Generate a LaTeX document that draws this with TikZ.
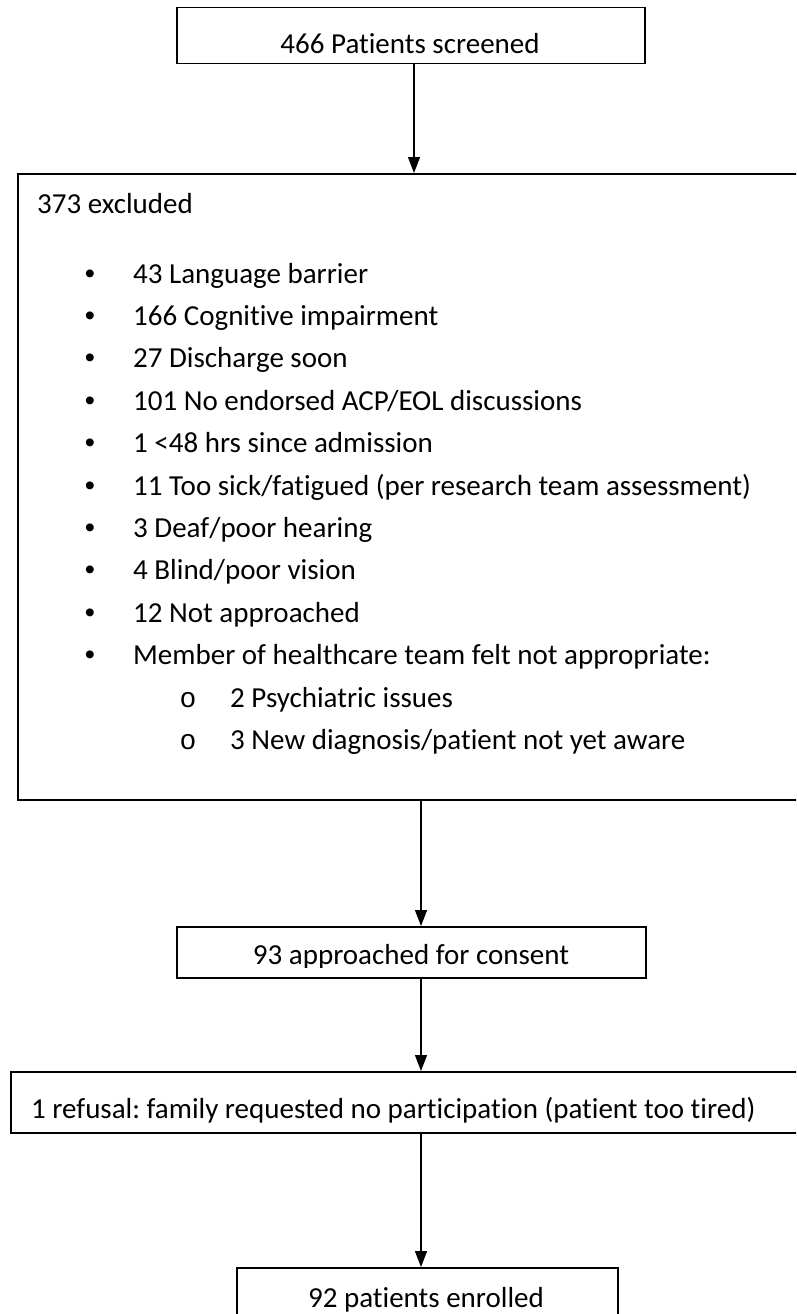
\documentclass[tikz,border=0pt]{standalone}
\usepackage{fontspec}
\setmainfont{Carlito}[Ligatures=NoCommon]
\newfontfamily\bulfont{Liberation Sans}
\newfontfamily\subfont{Liberation Mono}
\usetikzlibrary{arrows.meta}
\frenchspacing
\begin{document}
\begin{tikzpicture}[x=1pt,y=-1pt,
  box/.style={draw, line width=1.5pt, rectangle, inner sep=0pt, anchor=north west},
  txt/.style={inner sep=0pt, font=\fontsize{29}{35}\selectfont},
  bul/.style={inner sep=0pt, anchor=base, font=\bulfont\fontsize{29}{35}\selectfont},
  sbul/.style={inner sep=0pt, anchor=base, font=\subfont\fontsize{28}{30}\selectfont},
  arr/.style={line width=1.3pt, -{Triangle[width=12pt,length=16pt]}}]
\useasboundingbox (0,0) rectangle (796,1314);
\clip (0,0) rectangle (796,1314);
\fill[white] (0,0) rectangle (796,1314);
% boxes
\node[box, minimum width=468pt, minimum height=56pt] (top) at (176,7) {};
\node[box, minimum width=810pt, minimum height=626pt] (big) at (17,173) {};
\node[box, minimum width=469pt, minimum height=51pt] (appr) at (176,926) {};
\node[box, minimum width=820pt, minimum height=61pt] (ref) at (10,1071) {};
\node[box, minimum width=381pt, minimum height=70pt] (fin) at (236,1267) {};
% texts
\node[txt, anchor=base] (t1) at (410,53) {466 Patients screened};
\node[txt, anchor=base west] (t2) at (37,213) {373 excluded};
\foreach \k/\s in {0/{43 Language barrier}, 1/{166 Cognitive impairment}, 2/{27 Discharge soon},
  3/{101 No endorsed ACP/EOL discussions}, 4/{1 <48 hrs since admission},
  5/{11 Too sick/fatigued (per research team assessment)}, 6/{3 Deaf/poor hearing},
  7/{4 Blind/poor vision}, 8/{12 Not approached}, 9/{Member of healthcare team felt not appropriate:}}{
  \node[bul] (b\k) at (90,283+42.4*\k) {•};
  \node[txt, anchor=base west] (i\k) at (133,283+42.4*\k) {\s};
}
\node[sbul] (sb1) at (188,707) {o};
\node[txt, anchor=base west] (s1) at (230,707) {2 Psychiatric issues};
\node[sbul] (sb2) at (188,749.4) {o};
\node[txt, anchor=base west] (s2) at (230,749.4) {3 New diagnosis/patient not yet aware};
\begin{scope}
\clip (176,926) rectangle (645,967);
\node[txt, anchor=base] (t3) at (411,964) {93 approached for consent};
\end{scope}
\node[txt, anchor=base west] (t4) at (31,1118) {1 refusal: family requested no participation (patient too tired)};
\node[txt, anchor=base] (t5) at (426,1307) {92 patients enrolled};
% connectors
\coordinate (tx) at (414,0);
\coordinate (ax) at (421,0);
\draw[arr] (top.south -| tx) -- (big.north -| tx);
\draw[arr] (big.south -| ax) -- (appr.north -| ax);
\draw[arr] (appr.south -| ax) -- (ref.north -| ax);
\draw[arr] (ref.south -| ax) -- (fin.north -| ax);
\end{tikzpicture}
\end{document}
